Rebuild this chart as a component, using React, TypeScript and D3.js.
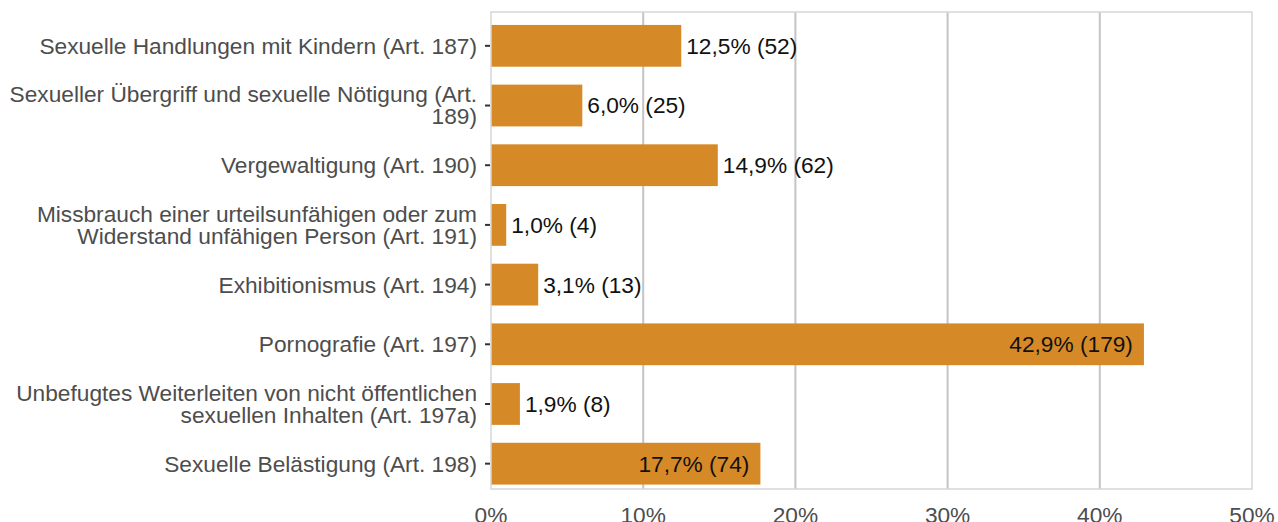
import React, { useEffect, useRef } from 'react';
import * as d3 from 'd3';

// categories (top to bottom), label lines as shown
const categories = [
  ['Sexuelle Handlungen mit Kindern (Art. 187)'],
  ['Sexueller Übergriff und sexuelle Nötigung (Art.', '189)'],
  ['Vergewaltigung (Art. 190)'],
  ['Missbrauch einer urteilsunfähigen oder zum', 'Widerstand unfähigen Person (Art. 191)'],
  ['Exhibitionismus (Art. 194)'],
  ['Pornografie (Art. 197)'],
  ['Unbefugtes Weiterleiten von nicht öffentlichen', 'sexuellen Inhalten (Art. 197a)'],
  ['Sexuelle Belästigung (Art. 198)'],
];
const percents = [12.5, 6.0, 14.9, 1.0, 3.1, 42.9, 1.9, 17.7];
const counts = [52, 25, 62, 4, 13, 179, 8, 74];
const xTicks = [0, 10, 20, 30, 40, 50];

const W = 1278;
const H = 522;

const App = () => {
  const ref = useRef<SVGSVGElement>(null);

  useEffect(() => {
    const svg = d3.select(ref.current);
    svg.selectAll('*').remove();

    const panel = { left: 491, right: 1252, top: 12, bottom: 489 };
    const font = '"Liberation Sans", Arial, sans-serif';
    const fs = 22.7;

    const x = d3.scaleLinear().domain([0, 50]).range([panel.left, panel.right]);
    const y = d3.scaleBand<number>()
      .domain(d3.range(categories.length))
      .range([13, 496.5])
      .paddingInner(0.3)
      .paddingOuter(0.2);

    const fmt = (v: number) => v.toFixed(1).replace('.', ',') + '%';

    // panel background
    svg.append('rect')
      .attr('x', panel.left).attr('y', panel.top)
      .attr('width', panel.right - panel.left).attr('height', panel.bottom - panel.top)
      .attr('fill', '#fff');

    // vertical grid
    svg.append('g').selectAll('line')
      .data(xTicks.slice(1, -1))
      .enter().append('line')
      .attr('x1', d => x(d)).attr('x2', d => x(d))
      .attr('y1', panel.top).attr('y2', panel.bottom)
      .attr('stroke', '#c4c4c4').attr('stroke-width', 2);

    // bars
    svg.append('g').selectAll('rect')
      .data(percents)
      .enter().append('rect')
      .attr('x', x(0))
      .attr('y', (d, i) => y(i)!)
      .attr('width', d => x(d) - x(0))
      .attr('height', y.bandwidth())
      .attr('fill', '#D68A27');

    // value labels
    svg.append('g').selectAll('text')
      .data(percents)
      .enter().append('text')
      .attr('x', d => (d > 15 ? x(d) - 11 : x(d) + 5))
      .attr('y', (d, i) => y(i)! + y.bandwidth() / 2)
      .attr('dy', '0.35em')
      .attr('text-anchor', d => (d > 15 ? 'end' : 'start'))
      .attr('font-family', font)
      .attr('font-size', fs)
      .attr('fill', '#111')
      .text((d, i) => `${fmt(d)} (${counts[i]})`);

    // panel border
    svg.append('rect')
      .attr('x', panel.left).attr('y', panel.top)
      .attr('width', panel.right - panel.left).attr('height', panel.bottom - panel.top)
      .attr('fill', 'none').attr('stroke', '#d6d6d6').attr('stroke-width', 1.5);

    // y axis ticks + labels
    const yAxis = svg.append('g');
    categories.forEach((lines, i) => {
      const cy = y(i)! + y.bandwidth() / 2;
      yAxis.append('line')
        .attr('x1', panel.left - 6).attr('x2', panel.left - 1)
        .attr('y1', cy).attr('y2', cy)
        .attr('stroke', '#333').attr('stroke-width', 2);
      const lh = 22;
      const t = yAxis.append('text')
        .attr('text-anchor', 'end')
        .attr('font-family', font)
        .attr('font-size', fs)
        .attr('fill', '#4d4d4d');
      lines.forEach((l, j) => {
        t.append('tspan')
          .attr('x', panel.left - 14)
          .attr('y', cy + (j - (lines.length - 1) / 2) * lh)
          .attr('dy', '0.35em')
          .text(l);
      });
    });

    // x axis labels
    svg.append('g').selectAll('text')
      .data(xTicks)
      .enter().append('text')
      .attr('x', d => x(d))
      .attr('y', 523)
      .attr('text-anchor', 'middle')
      .attr('font-family', font)
      .attr('font-size', fs)
      .attr('fill', '#4d4d4d')
      .text(d => `${d}%`);
  }, []);

  return (
    <svg ref={ref} width={W} height={H} style={{ position: 'absolute', left: 0, top: 0 }} />
  );
};

export default App;
